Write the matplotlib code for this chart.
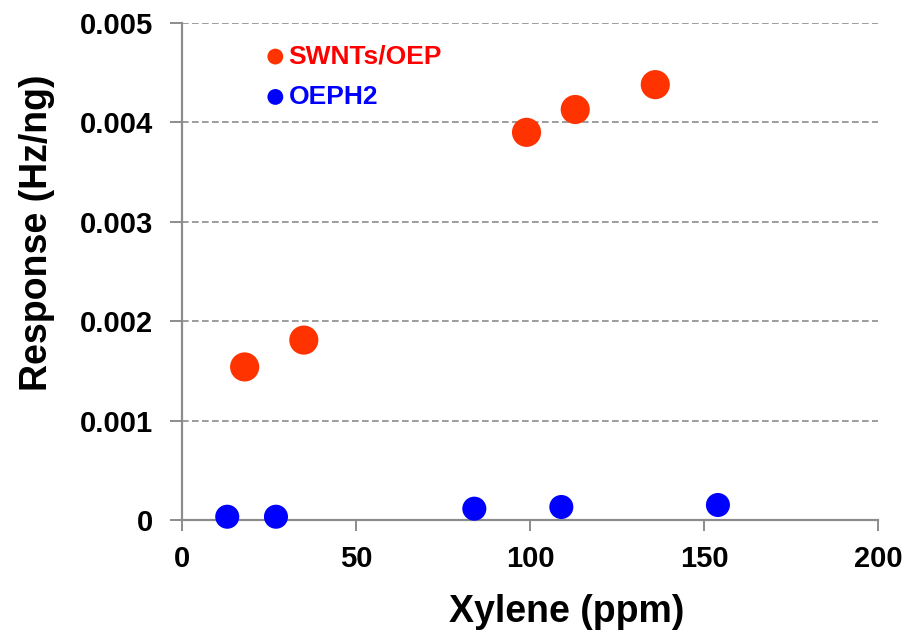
import matplotlib
matplotlib.use("Agg")
import matplotlib.pyplot as plt
from matplotlib.ticker import FixedLocator

plt.rcParams['font.family'] = ['Liberation Sans', 'DejaVu Sans']
plt.rcParams['font.weight'] = 'bold'

# Xylene concentration (ppm) vs. sensor response (Hz/ng)
swnt_x = [18, 35, 99, 113, 136]
swnt_y = [0.00154, 0.00181, 0.00390, 0.00413, 0.00438]
oeph2_x = [13, 27, 84, 109, 154]
oeph2_y = [0.000033, 0.000033, 0.000114, 0.000131, 0.000151]

x_ticks = [0, 50, 100, 150, 200]
y_ticks = [0, 0.001, 0.002, 0.003, 0.004, 0.005]
y_tick_labels = ["0", "0.001", "0.002", "0.003", "0.004", "0.005"]

red_mark = "#FF3300"
blue_mark = "#0000FF"
axis_grey = "#8C8C8C"

fig = plt.figure(figsize=(9.06, 6.34), dpi=100)
ax = fig.add_axes([0.2009, 0.1798, 0.7682, 0.7839])

ax.scatter(swnt_x, swnt_y, s=440, color=red_mark, edgecolors='none',
           label="SWNTs/OEP", zorder=3, clip_on=False)
ax.scatter(oeph2_x, oeph2_y, s=300, color=blue_mark, edgecolors='none',
           label="OEPH2", zorder=3, clip_on=False)

ax.set_xlim(0, 200)
ax.set_ylim(0, 0.005)
ax.xaxis.set_major_locator(FixedLocator(x_ticks))
ax.yaxis.set_major_locator(FixedLocator(y_ticks))
ax.set_yticklabels(y_tick_labels)

ax.grid(axis='y', color='#8C8C8C', linestyle=(0, (4, 2)), linewidth=1.2, zorder=0)
ax.set_axisbelow(True)

for side in ('top', 'right'):
    ax.spines[side].set_visible(False)
for side in ('left', 'bottom'):
    ax.spines[side].set_color(axis_grey)
    ax.spines[side].set_linewidth(1.6)

ax.tick_params(axis='y', direction='out', length=9, width=1.4, color=axis_grey,
               labelsize=21, pad=12)
ax.tick_params(axis='x', direction='out', length=8, width=1.4, color=axis_grey,
               labelsize=21, pad=10)
for lbl in ax.get_xticklabels() + ax.get_yticklabels():
    lbl.set_fontweight('bold')

ax.set_xlabel("Xylene (ppm)", fontsize=27, fontweight='bold')
ax.set_ylabel("Response (Hz/ng)", fontsize=27, fontweight='bold')
ax.xaxis.set_label_coords(0.552, -0.149)
ax.yaxis.set_label_coords(-0.183, 0.577)

leg = ax.legend(loc='upper left', bbox_to_anchor=(0.081, 0.978), frameon=False,
                handletextpad=-0.5, labelspacing=0.62, borderaxespad=0,
                labelcolor=["#FF0000", "#0000FF"],
                prop={'weight': 'bold', 'size': 19})
for h in leg.legend_handles:
    h.set_sizes([130])

fig.savefig("out.png", dpi=100)
